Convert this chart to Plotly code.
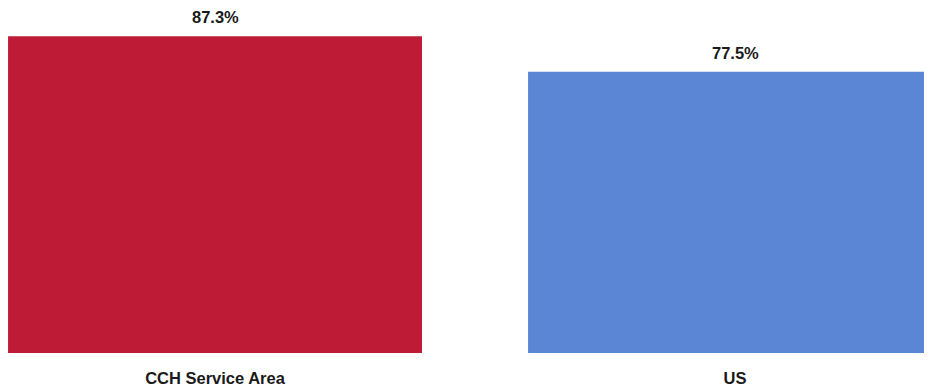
import plotly.graph_objects as go

categories = ['CCH Service Area', 'US']
values = [87.3, 77.5]
colors = ['#BE1C36', '#5B86D6']

font_family = 'Liberation Sans, Arial, sans-serif'
text_color = '#1a1a1a'

fig = go.Figure()
fig.add_trace(go.Bar(
    x=[0, 1],
    y=values,
    width=0.796,
    marker=dict(color=colors, line=dict(width=0)),
    hoverinfo='skip',
))

# value labels above the bars
for i, v in enumerate(values):
    fig.add_annotation(x=i, y=v, text='<b>%.1f%%</b>' % v, showarrow=False,
                       yanchor='bottom', yshift=8,
                       font=dict(size=16.5, color=text_color, family=font_family))

# page body has an 8px margin, so the figure is offset by 8px in the window
fig.update_layout(
    width=924, height=381,
    margin=dict(l=0, r=0, t=0, b=36),
    plot_bgcolor='white', paper_bgcolor='white',
    showlegend=False,
    xaxis=dict(range=[-0.3981, 1.3788], tickvals=[0, 1],
               ticktext=['<b>%s</b>' % c for c in categories],
               showgrid=False, zeroline=False, showline=False, ticks='',
               ticklabelstandoff=13, automargin=False,
               tickfont=dict(size=16.5, color=text_color, family=font_family)),
    yaxis=dict(range=[0, 95.1], visible=False),
)

fig.write_html("out.html")
